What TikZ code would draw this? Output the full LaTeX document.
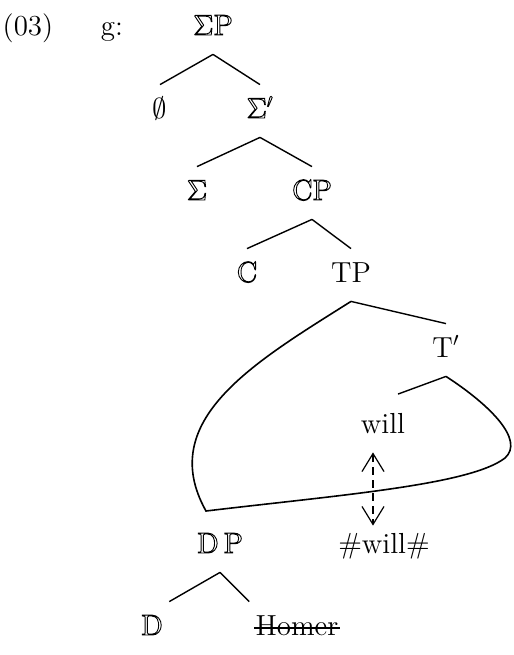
\documentclass[tikz,border=0pt]{standalone}
\usetikzlibrary{arrows.meta}
% outlined (hollow) letters
\newcommand{\flushmark}{{\color{white}\rule{0.01pt}{0.01pt}}}
\newcommand{\hollow}[1]{\flushmark\special{pdf:code 1 Tr 0.45 w}#1\flushmark\special{pdf:code 0 Tr}}
\begin{document}
\begin{tikzpicture}[
		x=0.5pt, y=-0.5pt,
		font=\fontsize{14.5}{17}\selectfont,
		tn/.style={
			anchor=base,
			inner xsep=3pt,
			inner ysep=6.5pt,
			text height=10pt,
			text depth=3pt
		},
		br/.style={line width=0.7pt},
		roof/.style={line width=0.8pt},
		mv/.style={line width=0.6pt, dash pattern=on 4pt off 2.5pt,
			{Straight Barb[length=9pt,width=11pt]}-{Straight Barb[length=9pt,width=11pt]}}
		]
		\useasboundingbox (0,0) rectangle (514,655);
		
		\node[tn] (ex) at (28,35) {(03)};
		\node[tn] (g) at (112,35) {g:};
		\node[tn] (sp) at (213,35) {\hollow{$\Sigma$P}};
		\node[tn] (nul) at (160,118) {$\emptyset$};
		\node[tn] (sb) at (260,118) {\hollow{$\Sigma'$}};
		\node[tn] (s) at (197,200) {\hollow{$\Sigma$}};
		\node[tn] (cp) at (312,200) {\hollow{CP}};
		\node[tn] (c) at (247,282) {\hollow{C}};
		\node[tn] (tp) at (351,282) {TP};
		\node[tn] (tb) at (446,357) {T$'$};
		\node[tn] (will) at (383,433) {will};
		\node[tn] (ww) at (384,553) {\#will\#};
		\node[tn] (dp) at (220,553) {\hollow{D\,P}};
		\node[tn] (d) at (152,635) {\hollow{D}};
		\node[tn] (hom) at (297,635) {Homer};
		
		\coordinate (bend) at (206,511);
		\coordinate (rim) at (505,458);
		
		\draw[br] (sp.south) -- (nul.north);
		\draw[br] (sp.south) -- (sb.north);
		\draw[br] (sb.south) -- (s.north);
		\draw[br] (sb.south) -- (cp.north);
		\draw[br] (cp.south) -- (c.north);
		\draw[br] (cp.south) -- (tp.north);
		\draw[br] (tp.south) -- (tb.north);
		\draw[br, shorten >=8pt] (tb.south) -- (will.north);
		\draw[br] (dp.south) -- (d.north east);
		\draw[br] (dp.south) -- (hom.north west);
		% struck-out Homer
		\draw[br, shorten <=2.5pt, shorten >=2.5pt] ([yshift=3.5pt]hom.base west) -- ([yshift=3.5pt]hom.base east);
		
		\draw[roof] (tp.south) .. controls (255,362) and (155,420) .. (bend)
			.. controls (340,495) and (470,485) .. (rim)
			.. controls (525,440) and (490,405) .. (tb.south);
		
		\draw[mv, shorten >=-3pt] ([xshift=-5pt]will.south) -- ([xshift=-5pt]will.south |- ww.north);
		
	\end{tikzpicture}
\end{document}
